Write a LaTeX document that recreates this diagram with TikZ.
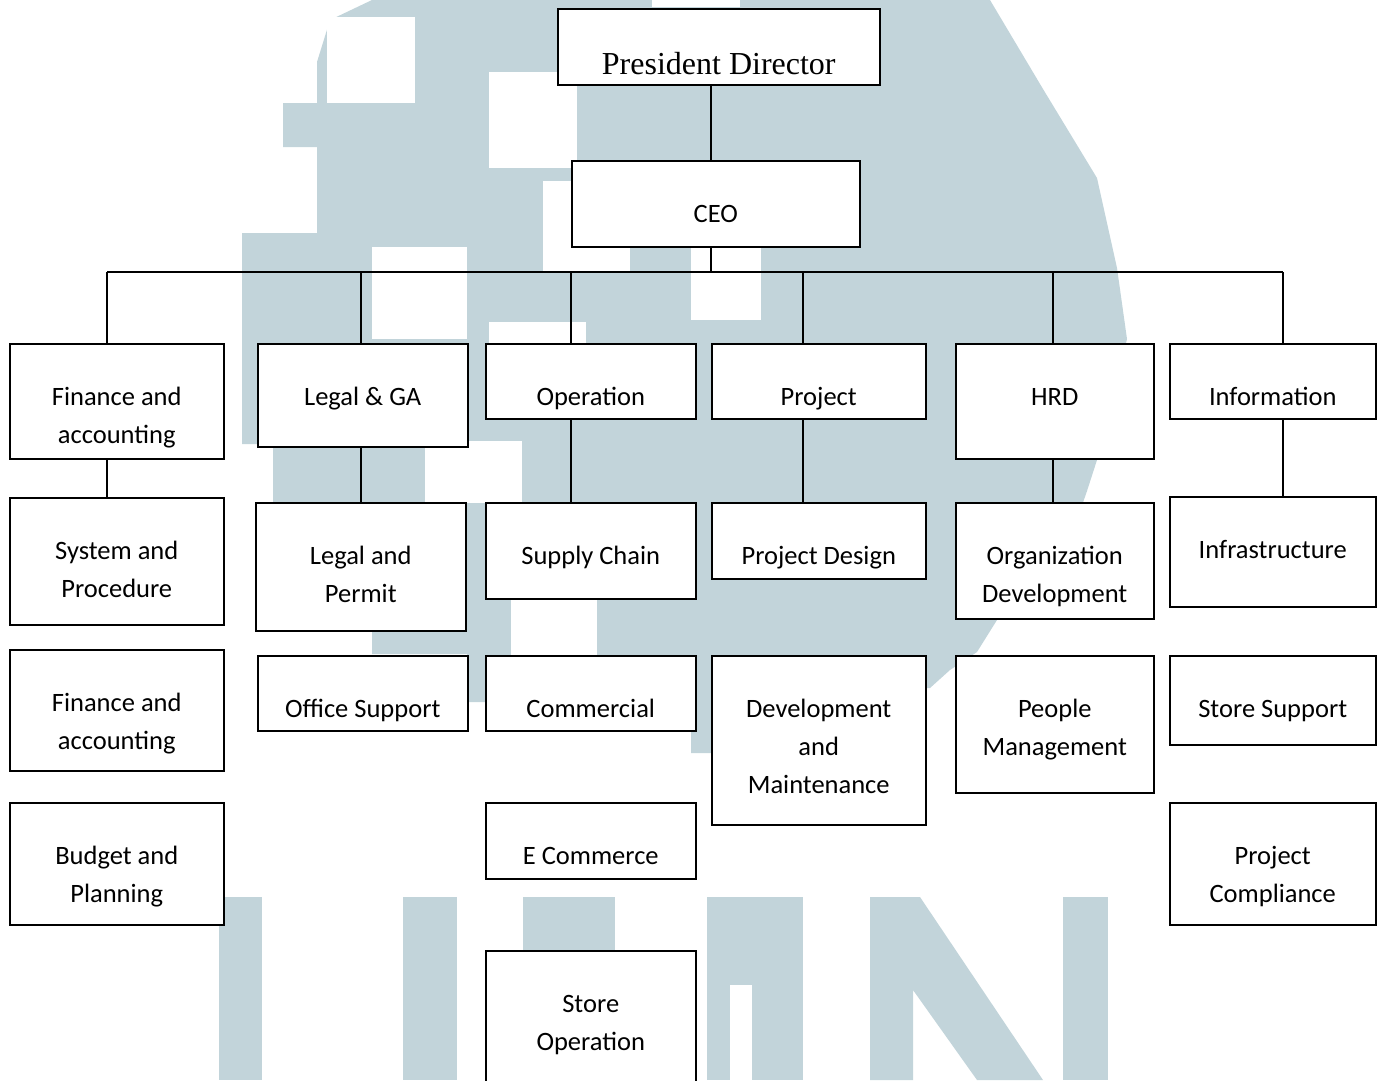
\documentclass[tikz,border=0pt]{standalone}
\usepackage{fontspec}
\usepackage{tikz}
\newfontfamily\carlito{Carlito}
\newfontfamily\timesfont{Liberation Serif}
\newcommand\lblfont{\carlito\fontsize{26.5}{38}\selectfont}
\newcommand\presfont{\timesfont\fontsize{32}{38}\selectfont}
\definecolor{wmblue}{RGB}{194,212,218}

\begin{document}
\begin{tikzpicture}[x=1pt, y=-1pt,
	box/.style={draw, line width=1.5pt, fill=white, inner sep=0pt, anchor=north west},
	lbl/.style={font=\lblfont, align=center, anchor=base, inner sep=0pt},
	link/.style={line width=1.5pt}]
				\useasboundingbox (0,0) rectangle (1382,1080);
				\clip (0,0) rectangle (1382,1080);

				% watermark in the background
				\fill[wmblue] (372,0) -- (990,0) -- (1043,89) -- (1097,178) -- (1117,268)
					-- (1127,339) -- (1097,460) -- (1087,491) -- (1070,540) -- (1040,600)
					-- (997,620) -- (977,652) -- (950,670) -- (930,688) -- (711,688)
					-- (711,753) -- (691,753) -- (691,700) -- (485,702) -- (467,702)
					-- (467,654) -- (372,654) -- (372,631) -- (260,631) -- (260,503)
					-- (273,503) -- (273,444) -- (242,444) -- (242,233) -- (317,233)
					-- (317,147) -- (283,147) -- (283,103) -- (317,103) -- (317,62)
					-- (330,20) -- cycle;
				\fill[white] (327,17) rectangle (415,103);
				\fill[white] (489,72) rectangle (577,168);
				\fill[white] (372,247) rectangle (467,339);
				\fill[white] (543,181) rectangle (630,272);
				\fill[white] (489,322) rectangle (586,343);
				\fill[white] (425,441) rectangle (522,503);
				\fill[white] (691,248) rectangle (761,320);
				\fill[white] (511,598) rectangle (597,655);
				\fill[white] (652,0) rectangle (740,7);
				\fill[wmblue] (219,897) rectangle (262,1080);
				\fill[wmblue] (403,897) rectangle (457,1080);
				\fill[wmblue] (523,897) rectangle (615,1080);
				\fill[wmblue] (707,897) rectangle (803,1080);
				\fill[white] (730,985) rectangle (752,1080);
				\fill[wmblue] (870,897) -- (920,897) -- (1043,1080) -- (977,1080)
					-- (913,990) -- (913,1080) -- (870,1080) -- cycle;
				\fill[wmblue] (1063,897) rectangle (1108,1080);

				% boxes
				\node[box, minimum width=322pt, minimum height=76pt] (pres) at (557,8) {};
				\node[box, minimum width=288pt, minimum height=86pt] (ceo) at (571,160) {};

				\node[box, minimum width=214pt, minimum height=115pt] (fin) at (9,343) {};
				\node[box, minimum width=214pt, minimum height=127pt] (sys) at (9,497) {};
				\node[box, minimum width=214pt, minimum height=121pt] (acc) at (9,649) {};
				\node[box, minimum width=214pt, minimum height=122pt] (bud) at (9,802) {};

				\node[box, minimum width=210pt, minimum height=103pt] (legal) at (257,343) {};
				\node[box, minimum width=210pt, minimum height=128pt] (permit) at (255,502) {};
				\node[box, minimum width=210pt, minimum height=75pt] (office) at (257,655) {};

				\node[box, minimum width=210pt, minimum height=75pt] (oper) at (485,343) {};
				\node[box, minimum width=210pt, minimum height=96pt] (supply) at (485,502) {};
				\node[box, minimum width=210pt, minimum height=75pt] (comm) at (485,655) {};
				\node[box, minimum width=210pt, minimum height=76pt] (ecom) at (485,802) {};
				\node[box, minimum width=210pt, minimum height=140pt] (store) at (485,950) {};

				\node[box, minimum width=214pt, minimum height=75pt] (proj) at (711,343) {};
				\node[box, minimum width=214pt, minimum height=76pt] (design) at (711,502) {};
				\node[box, minimum width=214pt, minimum height=169pt] (devm) at (711,655) {};

				\node[box, minimum width=198pt, minimum height=115pt] (hrd) at (955,343) {};
				\node[box, minimum width=198pt, minimum height=116pt] (orgdev) at (955,502) {};
				\node[box, minimum width=198pt, minimum height=137pt] (people) at (955,655) {};

				\node[box, minimum width=206pt, minimum height=75pt] (info) at (1169,343) {};
				\node[box, minimum width=206pt, minimum height=110pt] (infra) at (1169,496) {};
				\node[box, minimum width=206pt, minimum height=89pt] (storesup) at (1169,655) {};
				\node[box, minimum width=206pt, minimum height=122pt] (compl) at (1169,802) {};

				% texts (base is the last line)
				\node[font=\presfont, anchor=base, inner sep=0pt] (pres-t) at ([yshift=-66pt]pres.north) {President Director};
				\node[lbl] (ceo-t) at ([yshift=-62pt]ceo.north) {CEO};
				\node[lbl] (fin-t) at ([yshift=-100pt]fin.north) {Finance and\\accounting};
				\node[lbl] (sys-t) at ([yshift=-100pt]sys.north) {System and\\Procedure};
				\node[lbl] (acc-t) at ([yshift=-100pt]acc.north) {Finance and\\accounting};
				\node[lbl] (bud-t) at ([yshift=-100pt]bud.north) {Budget and\\Planning};
				\node[lbl] (legal-t) at ([yshift=-62pt]legal.north) {Legal \& GA};
				\node[lbl] (permit-t) at ([yshift=-100pt]permit.north) {Legal and\\Permit};
				\node[lbl] (office-t) at ([yshift=-62pt]office.north) {Office Support};
				\node[lbl] (oper-t) at ([yshift=-62pt]oper.north) {Operation};
				\node[lbl] (supply-t) at ([yshift=-62pt]supply.north) {Supply Chain};
				\node[lbl] (comm-t) at ([yshift=-62pt]comm.north) {Commercial};
				\node[lbl] (ecom-t) at ([yshift=-62pt]ecom.north) {E Commerce};
				\node[lbl] (store-t) at ([yshift=-100pt]store.north) {Store\\Operation};
				\node[lbl] (proj-t) at ([yshift=-62pt]proj.north) {Project};
				\node[lbl] (design-t) at ([yshift=-62pt]design.north) {Project Design};
				\node[lbl] (devm-t) at ([yshift=-138pt]devm.north) {Development\\and\\Maintenance};
				\node[lbl] (hrd-t) at ([yshift=-62pt]hrd.north) {HRD};
				\node[lbl] (orgdev-t) at ([yshift=-100pt]orgdev.north) {Organization\\Development};
				\node[lbl] (people-t) at ([yshift=-100pt]people.north) {People\\Management};
				\node[lbl] (info-t) at ([yshift=-62pt]info.north) {Information};
				\node[lbl] (infra-t) at ([yshift=-62pt]infra.north) {Infrastructure};
				\node[lbl] (storesup-t) at ([yshift=-62pt]storesup.north) {Store Support};
				\node[lbl] (compl-t) at ([yshift=-100pt]compl.north) {Project\\Compliance};

				% connectors
				\coordinate (bus) at (711,272);
				\coordinate (c1) at (107,272);
				\coordinate (c2) at (361,272);
				\coordinate (c3) at (571,272);
				\coordinate (c4) at (803,272);
				\coordinate (c5) at (1053,272);
				\coordinate (c6) at (1283,272);

				\draw [link](pres.south -| bus) -- (ceo.north -| bus);
				\draw [link](ceo.south -| bus) -- (bus);
				\draw [link](c1) -- (c6);
				\draw [link](c1) -- (c1 |- fin.north);
				\draw [link](c2) -- (c2 |- legal.north);
				\draw [link](c3) -- (c3 |- oper.north);
				\draw [link](c4) -- (c4 |- proj.north);
				\draw [link](c5) -- (c5 |- hrd.north);
				\draw [link](c6) -- (c6 |- info.north);
				\draw [link](fin.south -| c1) -- (sys.north -| c1);
				\draw [link](legal.south -| c2) -- (permit.north -| c2);
				\draw [link](oper.south -| c3) -- (supply.north -| c3);
				\draw [link](proj.south -| c4) -- (design.north -| c4);
				\draw [link](hrd.south -| c5) -- (orgdev.north -| c5);
				\draw [link](info.south -| c6) -- (infra.north -| c6);
			\end{tikzpicture}
\end{document}
